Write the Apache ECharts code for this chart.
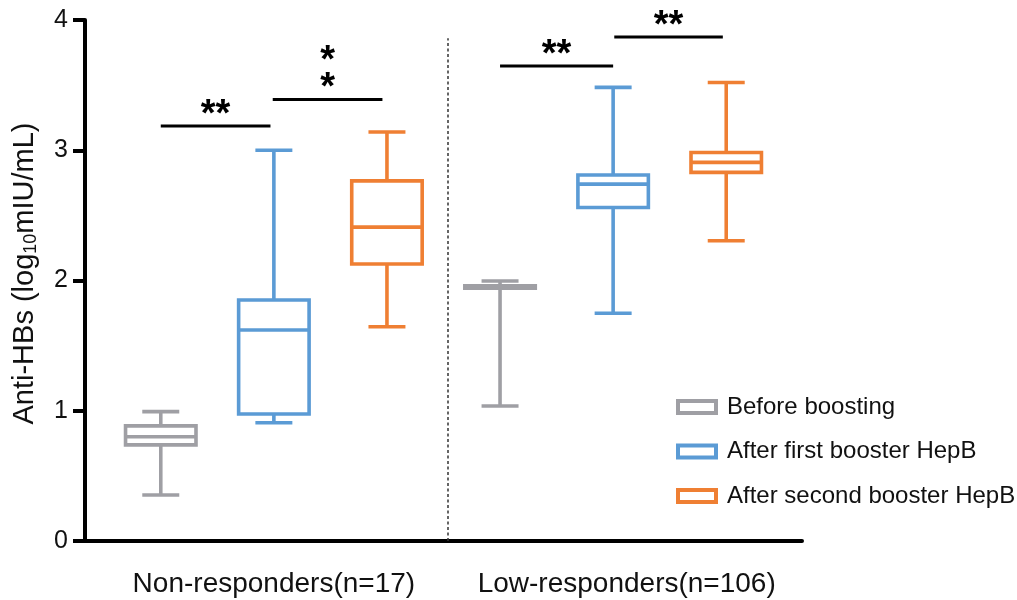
<!DOCTYPE html>
<html>
<head>
<meta charset="utf-8">
<script src="https://cdn.jsdelivr.net/npm/echarts@6/dist/echarts.min.js"></script>
<style>html,body{margin:0;padding:0;background:#fff;}#c{width:1017px;height:600px;}</style>
</head>
<body>
<div id="c"></div>
<script>
// ---- data ----
const groups = ['Non-responders(n=17)', 'Low-responders(n=106)'];
const seriesNames = ['Before boosting', 'After first booster HepB', 'After second booster HepB'];
// [min, Q1, median, Q3, max] per group
const beforeBoosting = [[0.353, 0.738, 0.80, 0.884, 0.993], [1.036, 1.94, 1.95, 1.96, 1.996]];
const afterFirst = [[0.908, 0.975, 1.62, 1.85, 3.0], [1.748, 2.56, 2.74, 2.81, 3.483]];
const afterSecond = [[1.645, 2.127, 2.41, 2.765, 3.14], [2.305, 2.83, 2.907, 2.983, 3.52]];
const yTicks = [0, 1, 2, 3, 4];
// significance brackets
const sigFrom = [1, 1.99, 4, 5.01];
const sigTo = [1.97, 2.96, 5, 5.97];
const sigLevel = [3.186, 3.39, 3.647, 3.87];
const sigLabels = ['**', '*\n*', '**', '**'];
const dividerX = 3.54;
const dividerTop = 3.86;
const groupLabelPos = [2, 5.12];

const colors = ['#9f9fa4', '#5b9bd5', '#ef7f33'];
const FONT = 'Liberation Sans, Arial, sans-serif';
const BOX_W = 0.623, CAP_W = 0.327, LW = 3.6;

const allSets = [beforeBoosting, afterFirst, afterSecond];

function boxData(set, s) {
  return set.map((v, g) => [g * 3 + s + 1].concat(v));
}

function renderBox(params, api) {
  const p = api.value(0);
  const mn = api.coord([p, api.value(1)]);
  const q1 = api.coord([p, api.value(2)]);
  const md = api.coord([p, api.value(3)]);
  const q3 = api.coord([p, api.value(4)]);
  const mx = api.coord([p, api.value(5)]);
  const hw = api.size([BOX_W, 0])[0] / 2;
  const cw = api.size([CAP_W, 0])[0] / 2;
  const x = md[0];
  const st = { stroke: api.visual('color'), lineWidth: LW, fill: null, lineCap: 'butt' };
  const line = (x1, y1, x2, y2) => ({ type: 'line', shape: { x1, y1, x2, y2 }, style: st });
  return {
    type: 'group',
    children: [
      line(x, mx[1], x, q3[1]),
      line(x, q1[1], x, mn[1]),
      line(x - cw, mx[1], x + cw, mx[1]),
      line(x - cw, mn[1], x + cw, mn[1]),
      { type: 'rect', shape: { x: x - hw, y: q3[1], width: 2 * hw, height: q1[1] - q3[1] }, style: st },
      line(x - hw, md[1], x + hw, md[1])
    ]
  };
}

function renderSig(params, api) {
  const a = api.coord([api.value(0), api.value(2)]);
  const b = api.coord([api.value(1), api.value(2)]);
  return {
    type: 'group',
    children: [
      { type: 'line', shape: { x1: a[0], y1: a[1], x2: b[0], y2: a[1] }, style: { stroke: '#000', lineWidth: 3 } },
      { type: 'text', x: (a[0] + b[0]) / 2, y: a[1] + 3,
        style: { text: sigLabels[params.dataIndex], fill: '#000', font: 'bold 38px ' + FONT,
                 align: 'center', verticalAlign: 'bottom', lineHeight: 27 } }
    ]
  };
}

const series = allSets.map((set, s) => ({
  name: seriesNames[s],
  type: 'custom',
  renderItem: renderBox,
  itemStyle: { color: colors[s] },
  encode: { x: 0, y: [1, 2, 3, 4, 5] },
  data: boxData(set, s)
}));

series.push({
  name: 'sig',
  type: 'custom',
  renderItem: renderSig,
  encode: { x: [0, 1], y: 2 },
  data: sigFrom.map((f, i) => [f, sigTo[i], sigLevel[i]]),
  silent: true,
  markLine: {
    silent: true,
    symbol: ['none', 'none'],
    label: { show: false },
    lineStyle: { color: '#333', width: 1.5, type: [3, 2.5] },
    data: [[{ coord: [dividerX, 0] }, { coord: [dividerX, dividerTop] }]]
  }
});

const chart = echarts.init(document.getElementById('c'), null, { renderer: 'canvas' });
chart.setOption({
  animation: false,
  backgroundColor: '#fff',
  grid: { left: 85, right: 215, top: 20, bottom: 59, outerBoundsMode: 'none' },
  legend: {
    orient: 'vertical',
    left: 671,
    top: 390,
    itemWidth: 38,
    itemHeight: 12,
    itemGap: 20.5,
    icon: 'rect',
    selectedMode: false,
    textStyle: { fontSize: 24, color: '#111', fontFamily: FONT, padding: [0, 0, 0, 6] },
    data: seriesNames.map((n, i) => ({
      name: n,
      icon: 'rect',
      itemStyle: { color: '#fff', borderColor: colors[i], borderWidth: 4 }
    }))
  },
  xAxis: {
    type: 'value',
    min: 0.33,
    max: 6.67,
    splitLine: { show: false },
    axisTick: { show: false },
    axisLine: { lineStyle: { color: '#000', width: 4 } },
    axisLabel: {
      customValues: groupLabelPos,
      formatter: (v) => (v < 3.5 ? groups[0] : groups[1]),
      fontSize: 28,
      color: '#111',
      fontFamily: FONT,
      margin: 29
    }
  },
  yAxis: {
    type: 'value',
    min: yTicks[0],
    max: yTicks[yTicks.length - 1],
    interval: 1,
    splitLine: { show: false },
    axisLine: { show: true, lineStyle: { color: '#000', width: 4 } },
    axisTick: { show: true, length: 12, lineStyle: { color: '#000', width: 4 } },
    axisLabel: { fontSize: 25, color: '#111', fontFamily: FONT, margin: 17 },
    name: 'Anti-HBs (log{sub|10}mIU/mL)',
    nameLocation: 'middle',
    nameRotate: 90,
    nameGap: 45,
    nameTextStyle: {
      fontSize: 29, color: '#111', fontFamily: FONT, padding: [0, 0, 0, 14],
      rich: { sub: { fontSize: 18, color: '#111', fontFamily: FONT, verticalAlign: 'bottom', padding: [12, 0, 0, 0] } }
    }
  },
  series: series
});
</script>
</body>
</html>
